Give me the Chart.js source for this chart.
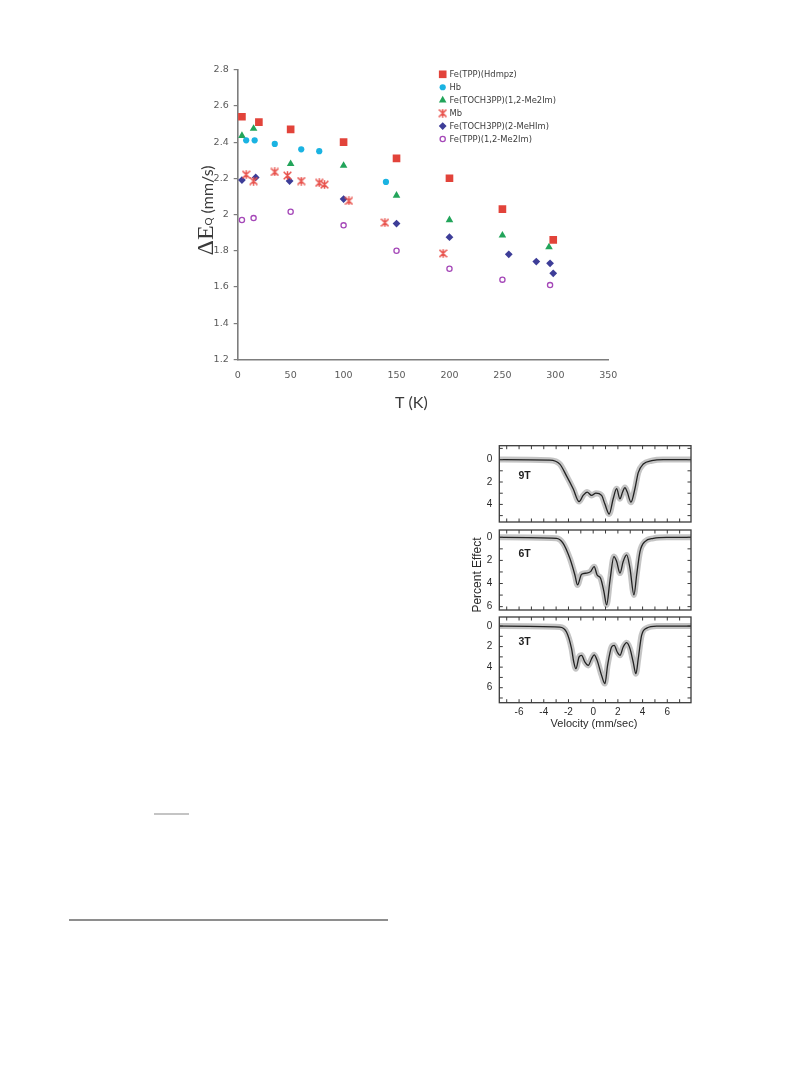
<!DOCTYPE html>
<html>
<head>
<meta charset="utf-8">
<script src="https://cdn.jsdelivr.net/npm/chart.js@4.4.1/dist/chart.umd.min.js"></script>
<style>
  html, body { margin: 0; padding: 0; background: #fff; }
  body { width: 808px; height: 1067px; position: relative; overflow: hidden; }
  canvas { position: absolute; }
  .rule { position: absolute; }
</style>
</head>
<body>
<canvas id="qs" width="808" height="420" style="left:0;top:0"></canvas>
<canvas id="sp9" width="260" height="120" style="left:440px;top:420px"></canvas>
<canvas id="sp6" width="260" height="125" style="left:440px;top:505px"></canvas>
<canvas id="sp3" width="260" height="150" style="left:440px;top:592px"></canvas>
<div class="rule" style="left:154px;top:813px;width:35px;height:2px;background:#c4c4c4"></div>
<div class="rule" style="left:69px;top:919px;width:319px;height:2px;background:#8e8e8e"></div>
<script>
// ---- Quadrupole splitting vs temperature ----
const SERIES_NAMES = [
  'Fe(TPP)(Hdmpz)',
  'Hb',
  'Fe(TOCH3PP)(1,2-Me2Im)',
  'Mb',
  'Fe(TOCH3PP)(2-MeHIm)',
  'Fe(TPP)(1,2-Me2Im)'
];
const T_TPP_HDMPZ = [4, 20, 50, 100, 150, 200, 250, 298];
const QS_TPP_HDMPZ = [2.54, 2.51, 2.47, 2.40, 2.31, 2.20, 2.03, 1.86];
const T_HB = [8, 16, 35, 60, 77, 140];
const QS_HB = [2.41, 2.41, 2.39, 2.36, 2.35, 2.18];
const T_TOCH3PP_ME2IM = [4, 15, 50, 100, 150, 200, 250, 294];
const QS_TOCH3PP_ME2IM = [2.435, 2.475, 2.28, 2.27, 2.105, 1.97, 1.885, 1.82];
const T_MB = [8, 15, 35, 47, 60, 77, 82, 105, 139, 194];
const QS_MB = [2.22, 2.185, 2.235, 2.215, 2.185, 2.175, 2.165, 2.075, 1.955, 1.785];
const T_TOCH3PP_MEHIM = [4, 17, 49, 100, 150, 200, 256, 282, 295, 298];
const QS_TOCH3PP_MEHIM = [2.19, 2.205, 2.185, 2.085, 1.95, 1.875, 1.78, 1.74, 1.73, 1.675];
const T_TPP_ME2IM = [4, 15, 50, 100, 150, 200, 250, 295];
const QS_TPP_ME2IM = [1.97, 1.98, 2.015, 1.94, 1.80, 1.70, 1.64, 1.61];

const X_TICKS = [0, 50, 100, 150, 200, 250, 300, 350];
const X_TICK_LABELS = ['0', '50', '100', '150', '200', '250', '300', '350'];
const Y_TICKS = [1.2, 1.4, 1.6, 1.8, 2.0, 2.2, 2.4, 2.6, 2.8];
const Y_TICK_LABELS = ['1.2', '1.4', '1.6', '1.8', '2', '2.2', '2.4', '2.6', '2.8'];

// ---- Applied-field Mössbauer spectra (fitted curves) ----
const VEL_9T = [-7.6, -3.51, -2.70, -2.16, -1.62, -1.14, -0.81, -0.49, -0.13, 0.22, 0.68, 0.95, 1.30, 1.62, 1.90, 2.17, 2.38, 2.57, 2.76, 3.06, 3.38, 3.65, 4.06, 4.74, 5.68, 7.92];
const PCT_9T = [0, 0.05, 0.4, 1.45, 2.6, 3.75, 3.2, 2.9, 3.2, 3.0, 3.2, 3.97, 4.86, 3.5, 2.6, 3.5, 2.9, 2.5, 2.9, 3.8, 2.6, 1.16, 0.4, 0.1, 0, 0];
const VEL_6T = [-7.6, -2.97, -2.43, -1.89, -1.48, -1.27, -0.94, -0.54, -0.21, 0.08, 0.32, 0.60, 0.87, 1.09, 1.35, 1.68, 1.90, 2.17, 2.43, 2.71, 2.98, 3.30, 3.52, 3.79, 4.19, 4.87, 5.95, 7.92];
const PCT_6T = [0, 0.09, 0.52, 1.82, 3.26, 4.12, 3.2, 3.1, 2.97, 2.54, 3.26, 3.54, 4.7, 5.85, 3.83, 1.67, 2.1, 3.1, 2.1, 1.53, 2.68, 4.99, 3.26, 1.24, 0.37, 0.09, 0, 0];
const VEL_3T = [-7.6, -2.70, -2.16, -1.75, -1.57, -1.40, -1.14, -0.94, -0.67, -0.40, -0.13, 0.08, 0.32, 0.68, 0.95, 1.17, 1.49, 1.70, 1.95, 2.17, 2.43, 2.71, 2.98, 3.24, 3.46, 3.65, 3.92, 4.33, 5.14, 7.92];
const PCT_3T = [0, 0.1, 0.58, 2.2, 3.5, 4.15, 3.0, 2.85, 3.5, 3.83, 3.18, 2.8, 3.34, 4.8, 5.6, 3.8, 2.04, 1.88, 2.53, 2.85, 2.04, 1.62, 2.2, 3.5, 4.64, 3.18, 0.9, 0.2, 0, 0];
const VEL_TICKS = [-6, -4, -2, 0, 2, 4, 6];
const VEL_TICK_LABELS = ['-6', '-4', '-2', '0', '2', '4', '6'];
const PCT_TICKS_9T = [0, 2, 4];
const PCT_TICKS = [0, 2, 4, 6];

function pts(xs, ys) { return xs.map((x, i) => ({ x: x, y: ys[i] })); }

// "star" marker: an X crossed by a vertical stroke
function starMark(color, size) {
  const c = document.createElement('canvas');
  c.width = size; c.height = size;
  const g = c.getContext('2d');
  g.strokeStyle = color; g.lineWidth = 1.5; g.lineCap = 'square';
  const a = 1.2, b = size - 1.2, m = size / 2;
  g.beginPath();
  g.moveTo(a, a); g.lineTo(b, b);
  g.moveTo(b, a); g.lineTo(a, b);
  g.moveTo(m, a - 0.3); g.lineTo(m, b + 0.3);
  g.stroke();
  return c;
}

const RED = '#e2433a';
const MB_RED = '#e8524c';
const CYAN = '#1ab3e2';
const GREEN = '#22a45a';
const NAVY = '#3d3d98';
const PURPLE = '#a548b8';

const qsDatasets = [
  { label: SERIES_NAMES[0], data: pts(T_TPP_HDMPZ, QS_TPP_HDMPZ), pointStyle: 'rect', pointRadius: 5.4,
    backgroundColor: RED, borderColor: RED, borderWidth: 0 },
  { label: SERIES_NAMES[1], data: pts(T_HB, QS_HB), pointStyle: 'circle', pointRadius: 3.1,
    backgroundColor: CYAN, borderColor: CYAN, borderWidth: 0 },
  { label: SERIES_NAMES[2], data: pts(T_TOCH3PP_ME2IM, QS_TOCH3PP_ME2IM), pointStyle: 'triangle', pointRadius: 4.4,
    backgroundColor: GREEN, borderColor: GREEN, borderWidth: 0 },
  { label: SERIES_NAMES[3], data: pts(T_MB, QS_MB), pointStyle: starMark(MB_RED, 9), pointRadius: 4,
    backgroundColor: MB_RED, borderColor: MB_RED, borderWidth: 0 },
  { label: SERIES_NAMES[4], data: pts(T_TOCH3PP_MEHIM, QS_TOCH3PP_MEHIM), pointStyle: 'rectRot', pointRadius: 3.9,
    backgroundColor: NAVY, borderColor: NAVY, borderWidth: 0 },
  { label: SERIES_NAMES[5], data: pts(T_TPP_ME2IM, QS_TPP_ME2IM), pointStyle: 'circle', pointRadius: 2.6,
    backgroundColor: '#ffffff', borderColor: PURPLE, borderWidth: 1.3 }
];
qsDatasets.forEach(d => { d.showLine = false; d.pointHoverRadius = d.pointRadius; });

// marker drawing for the in-plot key
function drawKeyMarker(ctx, ds, x, y) {
  const r = ds.pointRadius;
  ctx.save();
  ctx.fillStyle = ds.backgroundColor;
  ctx.strokeStyle = ds.borderColor;
  ctx.lineWidth = ds.borderWidth || 1;
  const st = ds.pointStyle;
  ctx.beginPath();
  if (typeof st !== 'string') {
    ctx.drawImage(st, x - st.width / 2, y - st.height / 2);
  } else if (st === 'rect') {
    const s = Math.SQRT1_2 * r;
    ctx.rect(x - s, y - s, 2 * s, 2 * s); ctx.fill();
  } else if (st === 'triangle') {
    ctx.moveTo(x, y - r);
    ctx.lineTo(x + Math.sin(2 * Math.PI / 3) * r, y - Math.cos(2 * Math.PI / 3) * r);
    ctx.lineTo(x + Math.sin(4 * Math.PI / 3) * r, y - Math.cos(4 * Math.PI / 3) * r);
    ctx.closePath(); ctx.fill();
  } else if (st === 'rectRot') {
    ctx.moveTo(x - r, y); ctx.lineTo(x, y - r); ctx.lineTo(x + r, y); ctx.lineTo(x, y + r);
    ctx.closePath(); ctx.fill();
  } else {
    ctx.arc(x, y, r, 0, Math.PI * 2); ctx.fill();
    if (ds.borderWidth > 0) ctx.stroke();
  }
  ctx.restore();
}

const qsDecor = {
  id: 'qsDecor',
  afterDraw(chart) {
    const ctx = chart.ctx;
    // key
    ctx.save();
    ctx.font = '8.4px "DejaVu Sans"';
    ctx.fillStyle = '#3c3c3c';
    ctx.textBaseline = 'middle';
    ctx.textAlign = 'left';
    chart.data.datasets.forEach((ds, i) => {
      const y = 74.3 + i * 12.95;
      drawKeyMarker(ctx, ds, 442.7, y);
      ctx.fillText(ds.label, 449.5, y + 0.5);
    });
    ctx.restore();

    // axis titles
    ctx.save();
    ctx.fillStyle = '#3a3a3a';
    ctx.textBaseline = 'alphabetic';
    ctx.font = '16px Lato';
    ctx.fillText('T (K)', 395, 408.3);
    ctx.translate(212.5, 255.5);
    ctx.rotate(-Math.PI / 2);
    let x = 0;
    ctx.font = '24px "Liberation Serif"';
    ctx.fillText('\u0394', x, 0); x += ctx.measureText('\u0394').width;
    ctx.fillText('E', x, 0); x += ctx.measureText('E').width;
    ctx.font = '10px Lato';
    ctx.fillText('Q', x, -0.5); x += ctx.measureText('Q').width + 4;
    ctx.font = '16px Lato';
    ctx.fillText('(mm/s)', x, 0);
    ctx.restore();
  }
};

new Chart(document.getElementById('qs'), {
  type: 'scatter',
  data: { datasets: qsDatasets },
  options: {
    responsive: false,
    animation: false,
    events: [],
    layout: { padding: { left: 187.7, right: 199.7, top: 69.7, bottom: 30.7 } },
    plugins: { legend: { display: false }, tooltip: { enabled: false } },
    scales: {
      x: {
        type: 'linear', min: 0, max: 350,
        afterFit(s) { s.height = 30; },
        afterBuildTicks(s) { s.ticks = X_TICKS.map(v => ({ value: v })); },
        grid: { display: true, drawOnChartArea: false, drawTicks: false },
        border: { display: true, color: '#7d7d7d', width: 1.6 },
        ticks: { padding: 11, color: '#5a5a5a', font: { family: 'DejaVu Sans', size: 9.5 },
                 maxRotation: 0, callback: (v, i) => X_TICK_LABELS[i] }
      },
      y: {
        type: 'linear', min: 1.2, max: 2.8,
        afterFit(s) { s.width = 50; },
        afterBuildTicks(s) { s.ticks = Y_TICKS.map(v => ({ value: v })); },
        grid: { display: true, drawOnChartArea: false, drawTicks: true, tickLength: 4, color: '#7d7d7d', lineWidth: 1.2 },
        border: { display: true, color: '#7d7d7d', width: 1.6 },
        ticks: { padding: 5, color: '#5a5a5a', font: { family: 'DejaVu Sans', size: 9.5 },
                 callback: (v, i) => Y_TICK_LABELS[i] }
      }
    }
  },
  plugins: [qsDecor]
});

// ---- spectra panels ----
function spectrumPanel(id, top, vel, pct, yMin, yMax, yTicks, opts) {
  const frame = {
    id: 'frame' + id,
    afterDraw(chart) {
      const { ctx, chartArea: a, scales } = chart;
      ctx.save();
      ctx.strokeStyle = '#3a3a3a';
      ctx.lineWidth = 1.3;
      ctx.strokeRect(a.left, a.top, a.right - a.left, a.bottom - a.top);
      ctx.lineWidth = 1;
      ctx.beginPath();
      for (let k = Math.ceil(scales.x.min); k <= Math.floor(scales.x.max); k++) {
        const px = scales.x.getPixelForValue(k);
        ctx.moveTo(px, a.top); ctx.lineTo(px, a.top + 3.5);
        ctx.moveTo(px, a.bottom); ctx.lineTo(px, a.bottom - 3.5);
      }
      for (let k = Math.ceil(yMin); k <= Math.floor(yMax); k++) {
        const py = scales.y.getPixelForValue(k);
        ctx.moveTo(a.left, py); ctx.lineTo(a.left + 3.5, py);
        ctx.moveTo(a.right, py); ctx.lineTo(a.right - 3.5, py);
      }
      ctx.stroke();
      ctx.fillStyle = '#1e1e1e';
      ctx.font = 'bold 10.5px "Liberation Sans"';
      ctx.textBaseline = 'middle';
      ctx.fillText(opts.tag, 518.5 - 440, opts.tagY - top);
      ctx.restore();
      if (opts.after) opts.after(chart, top);
    }
  };
  const data = pts(vel, pct);
  return new Chart(document.getElementById(id), {
    type: 'line',
    data: {
      datasets: [
        { data: data, borderColor: '#222222', borderWidth: 1.3, pointRadius: 0, cubicInterpolationMode: 'monotone', order: 0 },
        { data: data, borderColor: 'rgba(125,125,125,0.45)', borderWidth: 6, pointRadius: 0, cubicInterpolationMode: 'monotone', order: 1 }
      ]
    },
    options: {
      responsive: false,
      animation: false,
      events: [],
      layout: { padding: opts.padding },
      plugins: { legend: { display: false }, tooltip: { enabled: false } },
      scales: {
        x: {
          type: 'linear', min: -7.6, max: 7.92,
          display: opts.showX,
          afterFit(s) { s.height = opts.showX ? 32 : 0; },
          afterBuildTicks(s) { s.ticks = VEL_TICKS.map(v => ({ value: v })); },
          grid: { drawOnChartArea: false, drawTicks: false },
          border: { display: false },
          ticks: { padding: 4, color: '#2a2a2a', font: { family: 'Liberation Sans', size: 10 },
                   maxRotation: 0, callback: (v, i) => VEL_TICK_LABELS[i] }
        },
        y: {
          type: 'linear', min: yMin, max: yMax, reverse: true,
          afterFit(s) { s.width = 24; },
          afterBuildTicks(s) { s.ticks = yTicks.map(v => ({ value: v })); },
          grid: { drawOnChartArea: false, drawTicks: false },
          border: { display: false },
          ticks: { padding: 7, color: '#2a2a2a', font: { family: 'Liberation Sans', size: 10 },
                   callback: (v) => String(v) }
        }
      }
    },
    plugins: [frame]
  });
}

spectrumPanel('sp9', 420, VEL_9T, PCT_9T, -1.24, 5.57, PCT_TICKS_9T, {
  tag: '9T', tagY: 476.5, showX: false,
  padding: { left: 35.3, right: 9, top: 25.7, bottom: 18 }
});
spectrumPanel('sp6', 505, VEL_6T, PCT_6T, -0.63, 6.29, PCT_TICKS, {
  tag: '6T', tagY: 553.7, showX: false,
  padding: { left: 35.3, right: 9, top: 25, bottom: 20 },
  after(chart, top) {
    const ctx = chart.ctx;
    ctx.save();
    ctx.fillStyle = '#2a2a2a';
    ctx.font = '12px "Liberation Sans"';
    ctx.textAlign = 'center';
    ctx.textBaseline = 'alphabetic';
    ctx.translate(480.5 - 440, 575 - top);
    ctx.rotate(-Math.PI / 2);
    ctx.fillText('Percent Effect', 0, 0);
    ctx.restore();
  }
});
spectrumPanel('sp3', 592, VEL_3T, PCT_3T, -0.88, 7.46, PCT_TICKS, {
  tag: '3T', tagY: 642, showX: true,
  padding: { left: 35.3, right: 9, top: 25, bottom: 7.3 },
  after(chart, top) {
    const ctx = chart.ctx;
    ctx.save();
    ctx.fillStyle = '#2a2a2a';
    ctx.font = '11px "Liberation Sans"';
    ctx.textAlign = 'center';
    ctx.textBaseline = 'middle';
    ctx.fillText('Velocity (mm/sec)', 594 - 440, 724 - top);
    ctx.restore();
  }
});
</script>
</body>
</html>
